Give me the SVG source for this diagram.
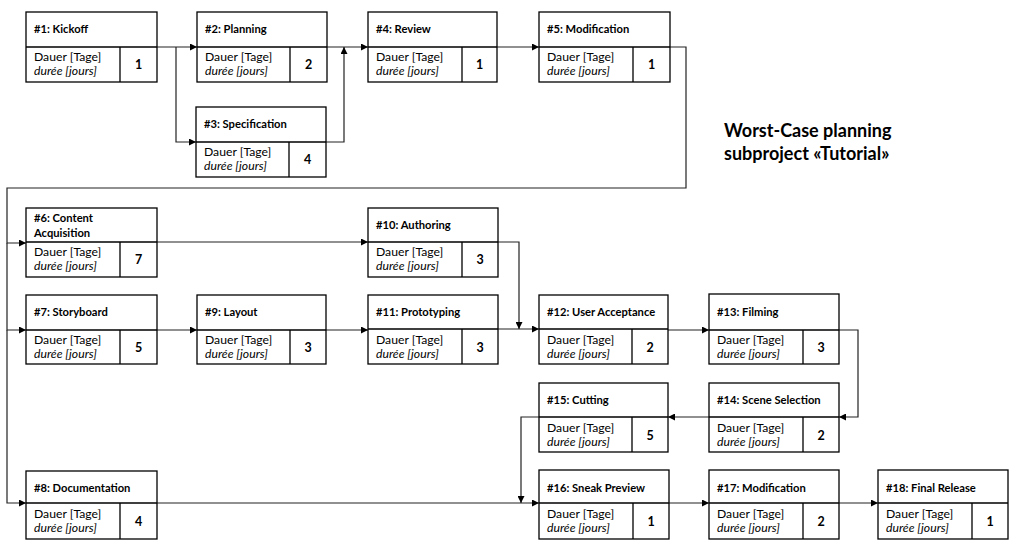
<svg xmlns="http://www.w3.org/2000/svg" width="1021" height="551" viewBox="0 0 1021 551">
<style>
.b{fill:#fff;stroke:#000;stroke-width:1.3}
.d{stroke:#000;stroke-width:1.3}
.t{font-family:Lato,"Liberation Sans",sans-serif;font-weight:bold;font-size:11.2px;fill:#000}
.l{font-family:Lato,"Liberation Sans",sans-serif;font-size:12.2px;fill:#000}
.i{font-style:italic}
.n{font-family:Lato,"Liberation Sans",sans-serif;font-weight:bold;font-size:12.5px;fill:#000;text-anchor:middle}
.c{fill:none;stroke:#222;stroke-width:1.2}
.h{font-family:Lato,"Liberation Sans",sans-serif;font-weight:bold;font-size:18px;fill:#000}
</style>
<defs>
<marker id="a" viewBox="0 0 10 10" refX="10" refY="5" markerWidth="7" markerHeight="7" markerUnits="userSpaceOnUse" orient="auto">
<path d="M0,0 L10,5 L0,10 z" fill="#000"/>
</marker>
</defs>
<rect width="1021" height="551" fill="#fff"/>
<g id="connectors" class="c" marker-end="url(#a)">
<path d="M157,47 H197"/>
<path d="M176,47 V142 H196"/>
<path d="M327,47 H368"/>
<path d="M326,142 H344 V47"/>
<path d="M497,47 H539"/>
<path d="M670,47 H686 V188 H7 V243 H26"/>
<path d="M7,243 V330 H26"/>
<path d="M7,330 V503 H26"/>
<path d="M157,242 H368"/>
<path d="M157,330 H197"/>
<path d="M326,330 H368"/>
<path d="M498,242 H519 V329"/>
<path d="M498,329 H539"/>
<path d="M668,330 H709"/>
<path d="M839,330 H858 V417 H839"/>
<path d="M709,417 H668"/>
<path d="M539,417 H521 V503"/>
<path d="M157,503 H539"/>
<path d="M669,503 H709"/>
<path d="M839,503 H878"/>
</g>
<g id="n1"><rect class="b" x="26" y="12" width="131" height="70"/><path class="d" d="M26,47 H157 M120,47 V82"/><text class="t" x="34" y="33">#1: Kickoff</text><text class="l" x="34" y="61">Dauer [Tage]</text><text class="l i" x="34" y="75">durée [jours]</text><text class="n" x="138.5" y="69">1</text></g>
<g id="n2"><rect class="b" x="197" y="12" width="130" height="70"/><path class="d" d="M197,47 H327 M290,47 V82"/><text class="t" x="205" y="33">#2: Planning</text><text class="l" x="205" y="61">Dauer [Tage]</text><text class="l i" x="205" y="75">durée [jours]</text><text class="n" x="308.5" y="69">2</text></g>
<g id="n3"><rect class="b" x="196" y="107" width="130" height="70"/><path class="d" d="M196,142 H326 M289,142 V177"/><text class="t" x="204" y="128">#3: Specification</text><text class="l" x="204" y="156">Dauer [Tage]</text><text class="l i" x="204" y="170">durée [jours]</text><text class="n" x="307.5" y="164">4</text></g>
<g id="n4"><rect class="b" x="368" y="12" width="129" height="70"/><path class="d" d="M368,47 H497 M462,47 V82"/><text class="t" x="376" y="33">#4: Review</text><text class="l" x="376" y="61">Dauer [Tage]</text><text class="l i" x="376" y="75">durée [jours]</text><text class="n" x="479.5" y="69">1</text></g>
<g id="n5"><rect class="b" x="539" y="12" width="131" height="70"/><path class="d" d="M539,47 H670 M633,47 V82"/><text class="t" x="547" y="33">#5: Modification</text><text class="l" x="547" y="61">Dauer [Tage]</text><text class="l i" x="547" y="75">durée [jours]</text><text class="n" x="651.5" y="69">1</text></g>
<g id="n6"><rect class="b" x="26" y="208" width="131" height="69"/><path class="d" d="M26,242 H157 M120,242 V277"/><text class="t" x="34" y="222">#6: Content</text><text class="t" x="34" y="237">Acquisition</text><text class="l" x="34" y="256">Dauer [Tage]</text><text class="l i" x="34" y="270">durée [jours]</text><text class="n" x="138.5" y="264">7</text></g>
<g id="n7"><rect class="b" x="26" y="295" width="131" height="69"/><path class="d" d="M26,330 H157 M120,330 V364"/><text class="t" x="34" y="316">#7: Storyboard</text><text class="l" x="34" y="344">Dauer [Tage]</text><text class="l i" x="34" y="358">durée [jours]</text><text class="n" x="138.5" y="352">5</text></g>
<g id="n8"><rect class="b" x="26" y="471" width="131" height="68"/><path class="d" d="M26,503 H157 M120,503 V539"/><text class="t" x="34" y="492">#8: Documentation</text><text class="l" x="34" y="518">Dauer [Tage]</text><text class="l i" x="34" y="532">durée [jours]</text><text class="n" x="138.5" y="526">4</text></g>
<g id="n9"><rect class="b" x="197" y="295" width="129" height="69"/><path class="d" d="M197,330 H326 M290,330 V364"/><text class="t" x="205" y="316">#9: Layout</text><text class="l" x="205" y="344">Dauer [Tage]</text><text class="l i" x="205" y="358">durée [jours]</text><text class="n" x="308" y="352">3</text></g>
<g id="n10"><rect class="b" x="368" y="208" width="130" height="69"/><path class="d" d="M368,242 H498 M462,242 V277"/><text class="t" x="376" y="229">#10: Authoring</text><text class="l" x="376" y="256">Dauer [Tage]</text><text class="l i" x="376" y="270">durée [jours]</text><text class="n" x="480" y="264">3</text></g>
<g id="n11"><rect class="b" x="368" y="295" width="130" height="69"/><path class="d" d="M368,329 H498 M462,329 V364"/><text class="t" x="376" y="316">#11: Prototyping</text><text class="l" x="376" y="344">Dauer [Tage]</text><text class="l i" x="376" y="358">durée [jours]</text><text class="n" x="480" y="352">3</text></g>
<g id="n12"><rect class="b" x="539" y="295" width="129" height="69"/><path class="d" d="M539,329 H668 M632,329 V364"/><text class="t" x="547" y="316">#12: User Acceptance</text><text class="l" x="547" y="344">Dauer [Tage]</text><text class="l i" x="547" y="358">durée [jours]</text><text class="n" x="650" y="352">2</text></g>
<g id="n13"><rect class="b" x="709" y="294" width="130" height="70"/><path class="d" d="M709,330 H839 M803,330 V364"/><text class="t" x="717" y="316">#13: Filming</text><text class="l" x="717" y="344">Dauer [Tage]</text><text class="l i" x="717" y="358">durée [jours]</text><text class="n" x="821" y="352">3</text></g>
<g id="n14"><rect class="b" x="709" y="383" width="130" height="69"/><path class="d" d="M709,417 H839 M803,417 V452"/><text class="t" x="717" y="404">#14: Scene Selection</text><text class="l" x="717" y="432">Dauer [Tage]</text><text class="l i" x="717" y="446">durée [jours]</text><text class="n" x="821" y="440">2</text></g>
<g id="n15"><rect class="b" x="539" y="383" width="129" height="69"/><path class="d" d="M539,417 H668 M632,417 V452"/><text class="t" x="547" y="404">#15: Cutting</text><text class="l" x="547" y="432">Dauer [Tage]</text><text class="l i" x="547" y="446">durée [jours]</text><text class="n" x="650" y="440">5</text></g>
<g id="n16"><rect class="b" x="539" y="470" width="130" height="69"/><path class="d" d="M539,503 H669 M633,503 V539"/><text class="t" x="547" y="492">#16: Sneak Preview</text><text class="l" x="547" y="518">Dauer [Tage]</text><text class="l i" x="547" y="532">durée [jours]</text><text class="n" x="651" y="526">1</text></g>
<g id="n17"><rect class="b" x="709" y="470" width="130" height="69"/><path class="d" d="M709,503 H839 M803,503 V539"/><text class="t" x="717" y="492">#17: Modification</text><text class="l" x="717" y="518">Dauer [Tage]</text><text class="l i" x="717" y="532">durée [jours]</text><text class="n" x="821" y="526">2</text></g>
<g id="n18"><rect class="b" x="878" y="470" width="130" height="69"/><path class="d" d="M878,503 H1008 M972,503 V539"/><text class="t" x="886" y="492">#18: Final Release</text><text class="l" x="886" y="518">Dauer [Tage]</text><text class="l i" x="886" y="532">durée [jours]</text><text class="n" x="990" y="526">1</text></g>
<g id="title"><text class="h" x="724" y="137">Worst-Case planning</text><text class="h" x="724" y="160">subproject «Tutorial»</text></g>
</svg>
